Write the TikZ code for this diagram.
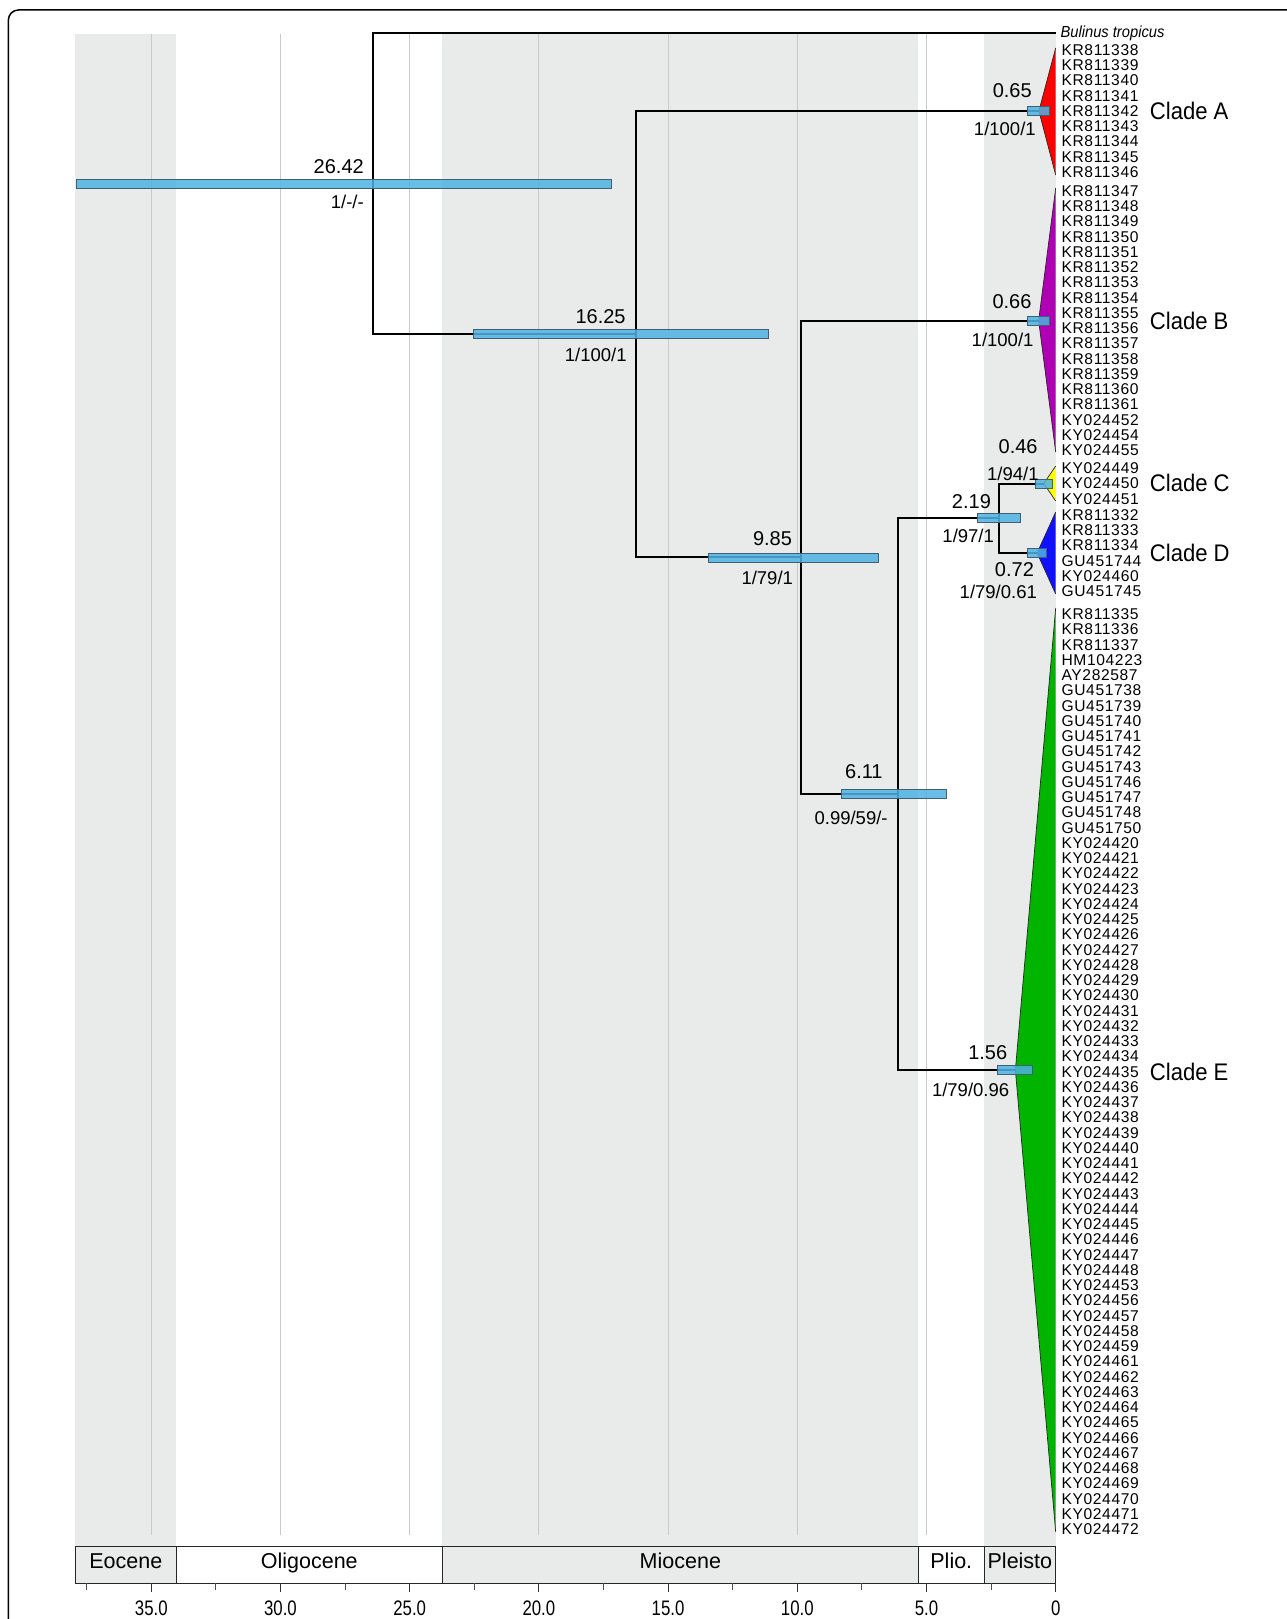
\documentclass[tikz,border=0pt]{standalone}
\usepackage{fontspec}
\setmainfont{Liberation Sans}
\newfontfamily\tipfont[LetterSpace=4]{Liberation Sans}
\newfontfamily\narrowfont[FakeStretch=0.92]{Liberation Sans}
\newfontfamily\axisfont[FakeStretch=0.8]{Liberation Sans}
\usetikzlibrary{positioning,calc}
\definecolor{BandGray}{HTML}{E9EAEA}
\definecolor{GridGray}{HTML}{C9CACA}
\definecolor{HPDBlue}{HTML}{4FB2E2}
\definecolor{HPDEdge}{HTML}{3F5F73}
\definecolor{CladeRed}{HTML}{FF0000}
\definecolor{CladePurple}{HTML}{B000B4}
\definecolor{CladeYellow}{HTML}{FFFF00}
\definecolor{CladeBlue}{HTML}{1010FF}
\definecolor{CladeGreen}{HTML}{00B400}

\begin{document}
\begin{tikzpicture}[x=-25.84pt, y=-1pt,
    branch/.style={line width=2pt, black},
    hpd/.style={fill=HPDBlue, draw=HPDEdge, line width=0.6pt, fill opacity=0.85},
    cladeedge/.style={draw=black!85, line width=0.7pt},
    agelab/.style={anchor=east, inner sep=0pt, font=\fontsize{20}{20}\selectfont},
    suplab/.style={anchor=east, inner sep=0pt, font=\fontsize{18.5}{18.5}\selectfont},
    tip/.style={anchor=west, inner sep=0pt, font=\tipfont\fontsize{15.6}{15.6}\selectfont},
    cladelab/.style={anchor=west, inner sep=0pt, font=\narrowfont\fontsize{24}{24}\selectfont},
    epochlab/.style={anchor=base, inner sep=0pt, font=\fontsize{21.5}{21.5}\selectfont},
    ticklab/.style={inner sep=0pt, font=\axisfont\fontsize{21}{21}\selectfont}]

    % Page (x in Ma, y in pixels)
    \useasboundingbox[fill=white] (40.855,0) rectangle (-8.951,1619);

    % Epoch shading and grid
    \foreach \a/\b in {37.94/34.03, 23.74/5.31, 2.77/0}
        \fill[BandGray] (\a,34) rectangle (\b,1546.7);
    \foreach \t in {5,10,...,35}
        \draw[GridGray, line width=0.9pt] (\t,34) -- (\t,1535);

    % Epoch boxes
    \foreach \a/\b/\name/\col [count=\i] in {37.94/34.03/Eocene/BandGray, 34.03/23.74/Oligocene/white,
            23.74/5.31/Miocene/BandGray, 5.31/2.77/Plio./white, 2.77/0/Pleisto/BandGray} {
        \draw[fill=\col, draw=black!85, line width=1.2pt] (\a,1546.7) rectangle (\b,1583.3);
        \node[epochlab] (ep\i) at ({(\a+\b)/2},1568.5) {\name};
    }

    % Time axis
    \foreach \t in {0,5,...,35}
        \draw[black!80, line width=1pt] (\t,1583.3) -- (\t,1592);
    \foreach \t in {2.5,7.5,...,37.5}
        \draw[black!70, line width=0.8pt] (\t,1583.3) -- (\t,1589.5);
    \foreach \t/\s [count=\i] in {0/0, 5/5.0, 10/10.0, 15/15.0, 20/20.0, 25/25.0, 30/30.0, 35/35.0}
        \node[ticklab] (ax\i) at (\t,1608) {\s};

    % Nodes of the tree
    \coordinate (root) at (26.42,183.75);
    \coordinate (bul)  at (0,33.3);
    \coordinate (n16)  at (16.25,334.2);
    \coordinate (cA)   at (0.65,111);
    \coordinate (n985) at (9.85,557.4);
    \coordinate (cB)   at (0.66,320.6);
    \coordinate (n611) at (6.11,794.1);
    \coordinate (n219) at (2.19,518.2);
    \coordinate (cC)   at (0.46,483.5);
    \coordinate (cD)   at (0.72,553);
    \coordinate (cE)   at (1.56,1070);

    % Collapsed clades
    \fill[CladeRed] (cA) -- (0,48) -- (0,175) -- cycle;
    \fill[CladePurple] (cB) -- (0,188) -- (0,452) -- cycle;
    \fill[CladeYellow] (cC) -- (0,466) -- (0,501) -- cycle;
    \fill[CladeBlue] (cD) -- (0,512) -- (0,594) -- cycle;
    \fill[CladeGreen] (cE) -- (0,608) -- (0,1532) -- cycle;
    \draw[cladeedge] (0,48) -- (cA) -- (0,175);
    \draw[cladeedge] (0,188) -- (cB) -- (0,452);
    \draw[cladeedge] (0,466) -- (cC) -- (0,501);
    \draw[cladeedge] (0,512) -- (cD) -- (0,594);
    \draw[cladeedge] (0,608) -- (cE) -- (0,1532);

    % Branches
    \foreach \p/\c in {root/bul, root/n16, n16/cA, n16/n985, n985/cB, n985/n611,
            n611/n219, n611/cE, n219/cC, n219/cD}
        \draw[branch] (\p) |- (\c);

    % 95% HPD bars
    \foreach \lo/\hi/\y in {37.92/17.21/183.75, 22.53/11.14/334.2, 13.45/6.85/557.4,
            8.31/4.25/794.1, 3.03/1.38/518.2, 1.08/0.25/111, 1.11/0.25/320.6,
            0.77/0.14/483.5, 1.08/0.37/553, 2.25/0.91/1070}
        \filldraw[hpd] (\lo,\y-4.5) rectangle (\hi,\y+4.5);

    % Ages and support values
    \node[agelab] (l2642) at ([shift={(-9pt,17pt)}]root) {26.42};
    \node[suplab] (s2642) at ([shift={(-9pt,-18pt)}]root) {1/-/-};
    \node[agelab] (l1625) at ([shift={(-10pt,18pt)}]n16) {16.25};
    \node[suplab] (s1625) at ([shift={(-9pt,-21pt)}]n16) {1/100/1};
    \node[agelab] (l985) at ([shift={(-9pt,19pt)}]n985) {9.85};
    \node[suplab] (s985) at ([shift={(-8pt,-20pt)}]n985) {1/79/1};
    \node[agelab] (l611) at ([shift={(-15pt,22pt)}]n611) {6.11};
    \node[suplab] (s611) at ([shift={(-10pt,-24pt)}]n611) {0.99/59/-};
    \node[agelab] (l219) at ([shift={(-8pt,16.5pt)}]n219) {2.19};
    \node[suplab] (s219) at ([shift={(-5pt,-18pt)}]n219) {1/97/1};
    \node[agelab] (lA) at ([shift={(-7pt,20pt)}]cA) {0.65};
    \node[suplab] (sA) at ([shift={(-3pt,-18pt)}]cA) {1/100/1};
    \node[agelab] (lB) at ([shift={(-7pt,19pt)}]cB) {0.66};
    \node[suplab] (sB) at ([shift={(-5pt,-19.5pt)}]cB) {1/100/1};
    \node[agelab] (lC) at ([shift={(-6pt,37pt)}]cC) {0.46};
    \node[suplab] (sC) at ([shift={(-5pt,10pt)}]cC) {1/94/1};
    \node[agelab] (lD) at ([shift={(-3pt,-17pt)}]cD) {0.72};
    \node[suplab] (sD) at ([shift={(0pt,-39pt)}]cD) {1/79/0.61};
    \node[agelab] (lE) at ([shift={(-8pt,17pt)}]cE) {1.56};
    \node[suplab] (sE) at ([shift={(-6pt,-20pt)}]cE) {1/79/0.96};

    % Clade names
    \node[cladelab] (nameA) at (-3.64,111) {Clade A};
    \node[cladelab] (nameB) at (-3.64,320.7) {Clade B};
    \node[cladelab] (nameC) at (-3.64,483.3) {Clade C};
    \node[cladelab] (nameD) at (-3.64,553.3) {Clade D};
    \node[cladelab] (nameE) at (-3.64,1071.7) {Clade E};

    % Tip labels
    \node[tip, font=\narrowfont\itshape\fontsize{16}{16}\selectfont] (tBul) at (-0.18,33.3) {Bulinus tropicus};
    \foreach \t [count=\k from 0] in {KR811338, KR811339, KR811340, KR811341, KR811342,
            KR811343, KR811344, KR811345, KR811346}
        \node[tip] (tA\k) at (-0.22,50+15.25*\k) {\t};
    \foreach \t [count=\k from 0] in {KR811347, KR811348, KR811349, KR811350, KR811351,
            KR811352, KR811353, KR811354, KR811355, KR811356, KR811357, KR811358,
            KR811359, KR811360, KR811361, KY024452, KY024454, KY024455}
        \node[tip] (tB\k) at (-0.22,191+15.25*\k) {\t};
    \foreach \t [count=\k from 0] in {KY024449, KY024450, KY024451}
        \node[tip] (tC\k) at (-0.22,468.3+15.25*\k) {\t};
    \foreach \t [count=\k from 0] in {KR811332, KR811333, KR811334, GU451744, KY024460, GU451745}
        \node[tip] (tD\k) at (-0.22,515+15.25*\k) {\t};
    \foreach \t [count=\k from 0] in {KR811335, KR811336, KR811337, HM104223, AY282587,
            GU451738, GU451739, GU451740, GU451741, GU451742, GU451743, GU451746,
            GU451747, GU451748, GU451750, KY024420, KY024421, KY024422, KY024423,
            KY024424, KY024425, KY024426, KY024427, KY024428, KY024429, KY024430,
            KY024431, KY024432, KY024433, KY024434, KY024435, KY024436, KY024437,
            KY024438, KY024439, KY024440, KY024441, KY024442, KY024443, KY024444,
            KY024445, KY024446, KY024447, KY024448, KY024453, KY024456, KY024457,
            KY024458, KY024459, KY024461, KY024462, KY024463, KY024464, KY024465,
            KY024466, KY024467, KY024468, KY024469, KY024470, KY024471, KY024472}
        \node[tip] (tE\k) at (-0.22,614.3+15.25*\k) {\t};

    % Frame
    \draw[line width=1.5pt, rounded corners=10pt] (40.53,1650) -- (40.53,10) -- (-9.5,10);

\end{tikzpicture}
\end{document}
